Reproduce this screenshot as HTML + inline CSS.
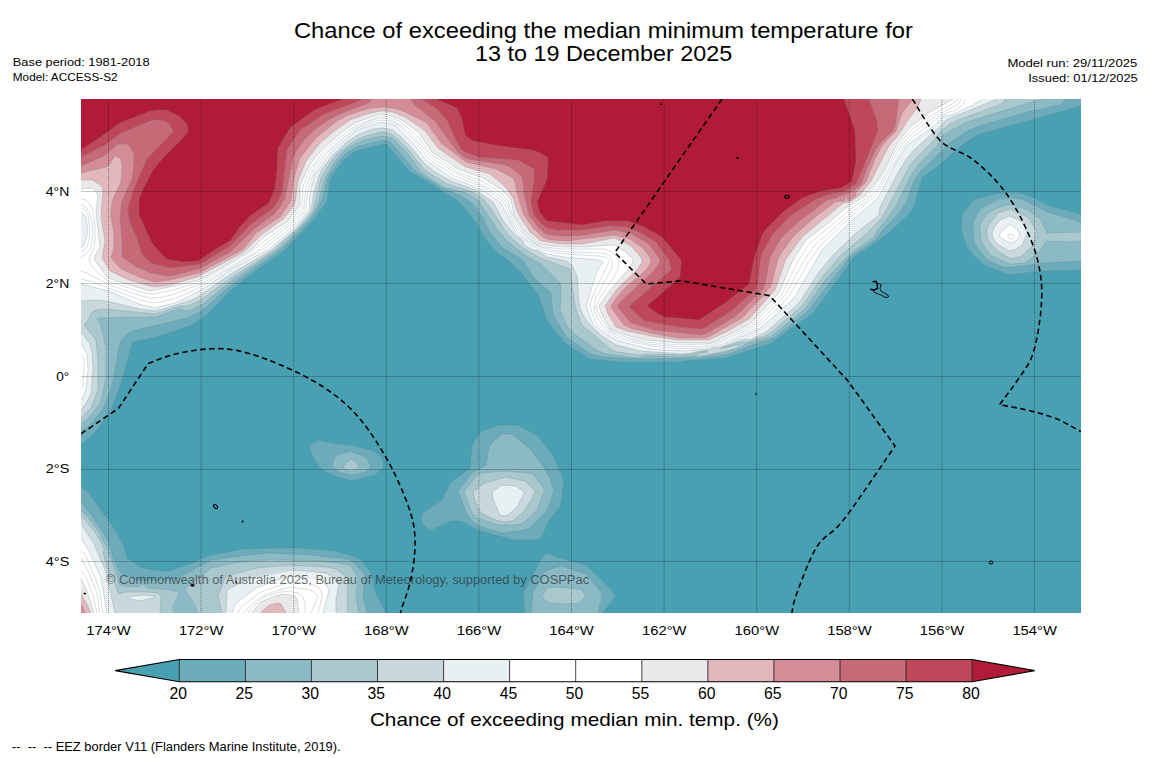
<!DOCTYPE html>
<html><head><meta charset="utf-8">
<style>
html,body{margin:0;padding:0;background:#fff;}
body{width:1150px;height:758px;position:relative;overflow:hidden;}
svg text{font-family:"Liberation Sans",sans-serif;}
</style></head><body>
<svg width="1150" height="758" viewBox="0 0 1150 758" style="position:absolute;left:0;top:0">
<defs><clipPath id="mc"><rect x="0" y="0" width="1000" height="514"/></clipPath><clipPath id="mc2"><rect x="81" y="99" width="1000" height="514"/></clipPath></defs>
<g transform="translate(81,99)"><g clip-path="url(#mc)">
<rect x="0" y="0" width="1000" height="514" fill="#4aa0b3"/>
<path fill="#6cacba" d="M0 345l0-345 1000 0 0 7-104 29-16 11-20 18-19 14-8 29-4 6-19 18-16 12-22 15-13 19-27 36-43 31-45 14-42 3-3 1-59 0-31-3-13-8-12-8-18-22-8-25-16-21-14-14-10-7-14-15-7-13-9-13-11-12-28-18-21-12-23-27-7 1-24 6-11 9-12 16-2 5-3 20-11 16-31 33-35 25-20 16-21 22-17 12-32 11-27 6-4 12-8 30-10 26-13 19-9 9zM881 116l12-16 25-6 18-1 17 6 16 8 31 8 0 56-40 1-31 4-24-9-12-10-7-9-6-17zM473 358l10 24-2 15-2 11-11 14-7 15-2 3-5 1-22 0-36-10-14-8-4-1-8 0-19 9-5-2-4-3-2-6 1-5 9-7 10-6 10-19 19-14 2-22 7-12 3-3 17-6 19 0 20 11zM229 347l4-4 5-2 12 3 24 3 19 5 8 7 1 3 0 7-8 7-20 5-5 0-12-3-12-5-6-4-8-13-2-5zM0 388l6 4 7 9 20 28 11 20 2 10 15 10 20 3 7 0 23-8 19-8 32-6 30-1 28 0 34 3 20 6 6 3 10 13 4 18 11 22-305 0zM442 494l17-32 5-7 3-1 11 5 27 7 23 22 6 8-1 3-5 7-7 8-77 0z"/>
<path fill="#8bbac5" d="M0 331l0-331 985 0-2 3-5 3-32 7-47 14-11 4-12 8-6 4-32 31-5 8-8 22-7 10-18 19-5 7-26 18-43 55-32 25-6 3-20 6-9 4-15 5-24 3-63 1-33-2-10-2-4-1-25-17-13-22-2-22-17-15-11-18-20-12-14-17-7-15-10-13-11-7-19-8-24-15-6-6-17-20-6-6-4-1-6 1-20 5-10 5-6 5-5 6-10 15-6 23-7 13-5 7-27 28-45 32-13 10-17 16-11 7-10 5-29 7-23 5-5 2-5 4-4 5-2 6-6 35-8 23-5 8-9 11-5 4zM892 123l8-14 11-6 7-3 13-1 10 1 26 13 33 10 0 39-37 2-32 4-9 0-17-8-9-12-3-6-1-11zM431 335l18 15 13 17 7 13 4 12-7 19-17 18-6 2-22 3-23-7-5-3-5-6-3-5-8-21 15-19 13-7 3-18 1-2 12-11zM251 366l2-6 2-3 14-5 15 6 3 4 3 6-6 5-14 3-12-3-6-5zM0 403l13 17 13 20 3 7 3 12 7 14 2 2 8 3 11 4 34-2 37-19 28-4 29-3 42 2 35 4 6 2 13 14-2 21 4 17-286 0zM462 474l5-3 13-4 25 8 16 19 0 6-4 14-67 0 2-20z"/>
<path fill="#a8c8cd" d="M0 325l0-325 963 0-12 3-65 20-24 13-2 5-3 5-18 18-7 9-17 34-9 13-10 12-3 6-25 18-23 24-21 30-35 28-25 7-3 3-19 6-23 4-10-1-10 1-33-1-9 2-32-4-8-3-22-16-8-7-8-18 1-22-1-5-19-19-15-8-17-13-12-14-19-29-12-7-23-6-22-15-13-18-16-16-11-2-17 4-9 4-7 4-8 7-6 8-9 15-6 22-4 10-5 7-11 12-16 16-9 7-40 27-31 25-12 6-6 1-5-2-2 0-22 8-55 1-4 1 3 4 6 24 0 32-6 25-13 16zM899 126l3-6 6-7 11-5 11-3 17 6 12 9 7 14 33-1 1 1 0 8-6 1-29-1-6 10-12 10-4 2-14 1-20-9-9-14zM262 369l2-4 6-5 5 3 4 5-1 1-8 3-6-2zM396 376l6-2 22-2 24 2 5 2 10 14 0 3-7 18-15 14-9 1-15 0-21-7-5-5-2-5-6-16zM0 411l6 6 13 17 2 6 5 9 11 30 1 6 4 2 15 1 3-2 2-1 4 4 17 1 15 3-1 4-5 10 1 7-93 0zM104 491l3-4 23-18 17-4 23-3 21-1 49 1 17 2 13 3 7 11 0 2-2 17 3 17-162 0-1-5-2-5zM461 496l5-7 12-1 21 2 3 2 2 4-1 3-4 5-15 1-17-1-4-4z"/>
<path fill="#c8d8dc" d="M0 319l0-319 924 0-2 4-4 2-41 15-8 4-10 8-7 9-17 17-7 9-27 51-16 16-26 22-17 20-21 30-28 24-7 5-19 7-4 0-4 0-19 6 4 0 11-3 3 1-2 2-15 4-22 4-6-1 14-3-1-1-8 1-8 2-11 1-34-1-7 1-21-3-6-2-29-24-2-3-6-17-5-37-30-11-17-10-16-14-17-27-5-6-12-9-26-8-18-11-7-6-15-19-13-12-6-3-7-1-15 4-10 4-9 6-10 8-7 9-5 8-4 7-8 32-4 6-12 13-25 23-37 23-33 24-12 6-4 1-6 0-25 8-50-5-9 1-5 3-2 6-5 6 12 15 2 20 0 29-7 19zM928 110l4 1 14 7 6 8 3 6-1 9-3 6-10 10-11 3-15-9-8-10-1-4 0-7 1-3 10-13zM392 393l12-9 21-6 19 4 10 10-2 6-9 14-11 10-7 1-8-1-17-8-6-12zM0 416l14 17 7 12 2 5-1 4 4 14 3 10 4 3 4 13 1 1 7-2 22 0 10 1 3 3 0 3-1 14-79 0zM137 497l8-19 7-3 24-6 28-3 42 2 9 2 11 9 1 6-1 17 1 12-126 0z"/>
<path fill="#e8f0f2" d="M0 202l0-202 916 0-51 21-4 5-27 24-8 9-8 13-19 36-1 8-23 18-22 21-15 18-20 31-33 29-16 8-5-1-4 1-22 8-6 0-3 2-11 1-8 2-9 1-42-3-24-6-14-9-14-13-5-8-3-7-1-6-2-26-6-12-5-3-19-4-9-6-5-1-6-3-3-3-2-4-7-5-11-13-11-20-18-12-24-9-16-9-10-8-15-18-11-11-7-5-9-2-10 1-14 5-12 8-14 13-11 14-3 7-5 16-3 18-15 19-26 22-36 21-38 26-10 4-31 9-15-2-34-8-10-1zM929 117l11 5 3 4 3 9-5 11-6 4-6 2-12-6-5-7-1-5 2-5 6-8zM0 233l9 12 2 8 1 17-2 25-6 11-4 5zM435 387l7 5 1 2-7 14-9 8-4 1-4-1-7-16-1-7 4-3 6-4zM0 425l13 20 12 28 9 41-34 0zM258 485l-3 15 0 14-110 0 1-23 19-10 7-3 35-7 19 1 21 3zM46 498l16-2 13 1-4 2-12 3-9-2-3-1z"/>
<path fill="#ffffff" d="M0 185l0-36 3-3 4-13-2-15-5-6 0-112 902 0-12 7-19 9-8 1-3 2-2 2-1 3-31 22-11 18-18 35-29 25-27 27-28 48-4 4-31 27-38 17-8 1-4 2-27 2-31-2-33-8-15-9-10-8-7-18 11-35 6-9-4-2-35-3-16-3-7-3-10-8-15-10-15-30-16-12-33-13-25-17-14-18-16-16-3-2-13-3-24 8-26 22-16 22-5 18-1 17-15 19-17 14-8 7-37 20-29 20-25 13-23 6-16-4-30-13zM929 125l8 6 2 6-4 5-5 2-9-4-3-4 4-5zM0 244l6 11 1 16-2 19-2 6-3 5zM0 439l9 15 11 25 6 35-26 0zM248 491l-6 23-91 0 3-9 21-16 32-11 22 0 10 2 7 7z"/>
<path fill="#ffffff" d="M0 172l0-14 5-3 4-5 2-7 1-8-1-14-3-8-3-5-5-2 0-106 880 0-1 3-3 3-20 10-23 17-9 9-5 7-17 31-10 15-6 6-17 14-35 31-12 17-17 32-14 15-14 14-7 5-30 14-13 4-29 1-31-3-27-7-13-6-5-5-5-7-3-7-1-6 2-9 16-29 0-7-2-5-4-2-5-1-34-1-14-2-9-2-7-3-18-15-7-12-5-15-7-7-15-10-29-13-18-11-9-7-14-17-13-12-7-4-12-4-7 1-21 9-28 23-11 13-4 8-6 15-2 20-4 7-9 10-37 29-53 31-30 11-13 3-9 0-11-3-30-11-21-11zM0 459l8 15 8 20 3 20-19 0zM237 497l-7 17-68 0 14-13 8-5 23-8 5 0 18 3z"/>
<path fill="#ebe8e9" d="M0 90l0-90 872 0-23 13-21 16-12 16-10 20-10 17-12 15-19 12-15 13-25 19-13 20-14 33-25 27-6 5-30 15-8 3-32 0-31-3-14-3-23-8-8-14-3-9 11-16 19-21 3-5 1-5-6-6-9-6-5-2-28 2-21 0-20-2-6-2-15-13-9-15-3-15-9-10-19-12-25-9-26-17-13-19-17-13-14-5-8-1-25 9-10 7-21 17-13 16-11 22 0 20-13 17-23 15-13 13-37 22-15 8-29 7-20 4-37-11-6-3-11-15-2-4 6-11-4-35 2-17-3-5-3-2zM0 479l6 13 7 22-13 0zM218 514l-48 0 10-11 9-4 12-4 9 1 4 1 2 3z"/>
<path fill="#e2b8bd" d="M0 81l0-81 840 0-3 8-10 13-8 13-11 13-18 35-11 14-10 7-6 1-2 1-40 33-16 22-11 31-26 29-21 12-19 9-30 0-23-3-29-6-11-4-8-13-3-8 12-17 20-19 5-8 0-2-2-4-9-10-7-4-10-4-32 6-21 0-20-3-11-9-10-15-4-9-2-8-6-10-6-6-12-10-24-7-8-5-20-14-13-17-5-4-15-10-13-5-11-1-14 3-17 6-13 9-17 14-14 18-8 20-3 22-4 7-8 9-22 16-13 13-6 5-45 24-27 8-15 2-5-1-21-6-19-9-8-13 3-17-4-24 2-29-4-4-7-4zM0 495l5 8 5 11-10 0zM205 514l-26 0 9-8 8-2 4 1z"/>
<path fill="#d48c96" d="M0 74l0-74 832 0-11 14-6 18-9 9-5 6-7 13-9 23-10 10 0 4-7 5-2-1 1-2-1-1-2 1 0 2-1 1-9 1-21 16-17 15-5 5-12 17-2 4-7 27-9 11-20 21-30 17-6 3-27 0-24-4-25-6-6-3-12-16-1-3 3-5 10-12 21-18 5-7 1-5-8-11-13-9-16-4-47 6-16-1-7-2-10-9-10-14-7-22-2-11-2-4-17-9-30-7-25-19-14-20-22-11-8-3-13-2-13 1-23 7-11 6-21 17-16 20-6 20-3 23-11 16-24 16-11 14-3 3-43 23-28 7-17 2-15-5-18-8-10-11 3-10 0-15-3-15 0-7 1-10 9-19 1-15-1-8-6-3-1 1-5 8-3 2zM0 505l2 3 2 6-4 0z"/>
<path fill="#c66a78" d="M0 67l0-67 292 0-5 4-26 10-12 6-16 11-9 9-8 11-4 8-8 40-5 9-6 7-20 15-15 15-9 8-31 17-24 6-8 1-16-3-16-7-13-9 0-17-2-20 1-13 1-6 10-22 2-16 0-9-6-10-10 0-14 12zM329 0l489 0-4 28-4 6-8 7-7 9-8 17-7 19-12 8-10 3-3 2-9 2-25 19-16 14-5 5-11 19-5 27-2 5-27 27-29 17-7 2-45-5-21-6-4-2-12-15 0-2 3-4 31-28 7-9 1-4-1-2-10-14-17-10-17-4-31 5-13 1-9 0-16-2-8-7-9-12-5-22-1-12-1-4-2-2-10-8-4-2-38-6-4-2-7-6-6-8-16-22-19-15z"/>
<path fill="#be485a" d="M0 58l0-58 282 0-20 8-19 7-24 16-13 20-5 42-2 5-7 11-23 17-20 21-30 18-5 1-25 3-19-5-9-9-5-16-6-13-2-6-1-11 5-17 14-32 26-27 0-2-4-6-4-3-8-1-5 0-31 13-16 12zM341 0l447 0 8 22 1 10-17 42-5 11-11 7-15 3-14 5-26 17-18 19-10 18-2 8-2 21-2 7-25 22-25 16-4 2-22-2-35-6-4-3-12-11 5-5 37-32-2-10-13-18-15-9-14-6-18-1-27 4-24 0-11-2-7-6-6-7-3-12 0-4 3-17 0-13-16-9-39-3-16-6-2-2-6-11-8-18-10-11z"/>
<path fill="#b01c38" d="M0 51l0-51 262 0-29 11-24 18-12 20-1 22-2 18-6 15-19 13-11 12-8 12-15 9-18 12-15 1-17-3-14-16-13-28 0-16 4-10 10-19 10-12 17-17 8-9 0-3-1-5-8-8-13-6-6 0-10 1-30 12-21 15zM355 0l408 0 11 31 1 31-4 20-2 2-9 5-19 3-20 7-20 15-17 17-3 5-7 20-6 29-24 19-26 17-22-2-13-1-6-3-11-8 32-28 1-2 1-12 0-4-4-5-15-18-18-10-16-6-23 0-23 4-35-4-7-8-3-11 10-23 1-19-1-3-7-4-7-3-33-4-27-5-8-6-3-16-5-11z"/>
<path fill="none" stroke="#5f7f8a" stroke-opacity="0.38" stroke-width="0.7" d="M1000 7l-104 29-16 11-20 18-19 14-8 29-4 6-19 18-16 12-22 15-13 19-27 36-43 31-45 14-42 3-3 1-59 0-31-3-13-8-12-8-18-22-8-25-16-21-14-14-10-7-14-15-7-13-9-13-11-12-28-18-21-12-23-27-7 1-24 6-11 9-12 16-2 5-3 20-11 16-31 33-35 25-20 16-21 22-17 12-32 11-27 6-4 12-8 30-10 26-13 19-9 9-8 6M1000 171l-40 1-31 4-19-7-6-2-17-17-7-18 1-16 11-15 26-7 21 0 14 5 13 7 34 9M0 388l6 4 7 9 20 28 11 20 2 10 15 10 20 3 7 0 23-8 19-8 32-6 30-1 28 0 34 3 20 6 6 3 10 13 4 18 11 22M444 514l-2-20 17-32 5-7 3-1 11 5 27 7 23 23 5 5 0 3-7 13-5 4M473 358l10 24-2 15-2 11-11 14-7 15-2 3-5 1-22 0-36-10-14-8-4-1-8 0-19 9-5-2-4-3-2-6 1-5 9-7 10-6 10-19 19-14 2-22 7-12 3-3 17-6 19 0 20 11zM229 347l4-4 5-2 12 3 24 3 19 5 8 7 1 3 0 7-8 7-20 5-5 0-12-3-12-5-6-4-8-13-2-5zM985 0l-2 3-5 3-32 7-47 14-11 4-12 8-6 4-32 31-5 8-8 22-7 10-18 19-5 7-26 18-43 55-32 25-6 3-20 6-9 4-15 5-24 3-63 1-33-2-10-2-4-1-25-17-13-22-2-22-17-15-11-18-20-12-14-17-7-15-10-13-11-7-19-8-24-15-6-6-17-20-6-6-4-1-6 1-20 5-10 5-6 5-5 6-10 15-6 23-7 13-5 7-27 28-45 32-13 10-17 16-11 7-10 5-29 7-23 5-5 2-5 4-4 5-2 6-6 35-8 23-5 8-9 11-5 4-5 2M1000 162l-37 2-32 4-9 0-13-5-4-3-12-17-1-15 1-7 8-13 16-7 14-2 10 1 26 13 33 10M0 403l13 17 13 20 3 7 3 12 7 14 2 2 8 3 11 4 34-2 37-19 28-4 29-3 42 2 35 4 6 2 13 14-2 21 4 17M450 514l2-20 10-20 5-3 13-4 25 8 13 15 3 5-4 19M431 335l18 15 13 17 7 13 4 12-7 19-17 18-6 2-22 3-23-7-5-3-5-6-3-5-8-21 15-19 13-7 3-18 1-2 12-11zM251 366l2-6 2-3 14-5 15 6 3 4 3 6-6 5-14 3-12-3-6-5zM963 0l-12 3-65 20-24 13-2 5-3 5-18 18-7 9-17 34-9 13-10 12-3 6-25 18-23 24-21 30-35 28-25 7-3 3-19 6-23 4-10-1-10 1-33-1-9 2-32-4-8-3-22-16-8-7-8-18 1-22-1-5-19-19-15-8-17-13-12-14-19-29-12-7-23-6-22-15-13-18-16-16-11-2-17 4-9 4-7 4-8 7-6 8-9 15-6 22-4 10-5 7-11 12-16 16-9 7-40 27-31 25-12 6-6 1-5-2-2 0-22 8-55 1-4 1 3 4 6 24 0 32-6 25-13 16-6 4M1000 142l-6 1-29-1-6 10-12 10-4 2-14 1-20-9-9-14-1-12 0-4 1-3 8-10 8-4 13-4 18 6 12 9 7 14 28-1 6 1M0 411l6 6 13 17 2 6 5 9 11 30 1 6 4 2 15 1 3-2 2-1 4 4 17 1 15 3-1 4-5 10 1 7M116 514l-1-5-2-5-9-13 3-4 23-18 29-6 28-2 20 0 34 1 24 3 5 2 5 8 2 5-2 17 3 17M262 369l2-4 6-5 5 3 4 5-1 1-8 3-6-2zM396 376l6-2 22-2 24 2 5 2 10 14 0 3-7 18-15 14-9 1-15 0-21-7-5-5-2-5-6-16zM461 496l5-7 12-1 21 2 3 2 2 4-1 3-4 5-15 1-17-1-4-4zM924 0l-2 4-4 2-41 15-8 4-10 8-7 9-17 17-7 9-27 51-16 16-26 22-17 20-21 30-28 24-7 5-19 7-4 0-4 0-19 6 4 0 11-3 3 1-2 2-15 4-22 4-6-1 14-3-1-1-8 1-8 2-11 1-34-1-7 1-21-3-6-2-29-24-2-3-6-17-5-37-30-11-17-10-16-14-17-27-5-6-12-9-26-8-18-11-7-6-15-19-13-12-6-3-7-1-15 4-10 4-9 6-10 8-7 9-5 8-4 7-8 32-4 6-12 13-25 23-37 23-33 24-12 6-4 1-6 0-25 8-50-5-9 1-5 3-2 6-5 6 12 15 2 20 0 29-7 19-10 10M0 416l14 17 7 12 2 5-1 4 4 14 3 10 4 3 4 13 1 1 7-2 22 0 10 1 3 3 0 3-1 14M141 514l-4-18 6-15 3-4 30-8 33-3 37 2 9 2 5 3 7 7-1 21 1 13M928 110l4 1 14 7 6 8 3 6-1 9-3 6-10 10-11 3-15-9-8-10-1-4 0-7 1-3 10-13zM640 250l-1 0M392 393l12-9 21-6 19 4 10 10-2 6-9 14-11 10-7 1-8-1-17-8-6-12zM916 0l-51 21-4 5-27 24-8 9-8 13-19 36-1 8-23 18-22 21-15 18-20 31-33 29-16 8-5-1-4 1-22 8-6 0-3 2-11 1-8 2-9 1-42-3-24-6-14-9-14-13-5-8-3-7-1-6-2-26-6-12-5-3-19-4-9-6-5-1-6-3-3-3-2-4-7-5-11-13-11-20-18-12-24-9-16-9-10-8-15-18-11-11-7-5-9-2-10 1-14 5-12 8-14 13-11 14-3 7-5 16-3 18-15 19-26 22-36 21-38 26-10 4-31 9-15-2-34-8-10-1-15 1M0 233l9 12 2 8 1 17-2 25-6 11-4 5M0 425l13 20 12 28 9 41M145 514l1-23 22-11 42-9 36 3 9 7 3 5-3 14 0 14M929 117l11 5 3 4 3 9-5 11-6 4-6 2-12-6-5-7-1-5 2-5 6-8zM435 387l7 5 1 2-7 14-9 8-4 1-4-1-7-16-1-7 4-3 6-4zM46 498l16-2 13 1-4 2-12 3-9-2-3-1zM902 0l-12 7-19 9-8 1-3 2-2 2-1 3-31 22-11 18-18 35-29 25-27 27-28 48-4 4-31 27-38 17-8 1-4 2-27 2-31-2-33-8-15-9-10-8-7-18 11-35 6-9-4-2-35-3-16-3-7-3-10-8-15-10-15-30-16-12-33-13-25-17-14-18-16-16-3-2-13-3-24 8-26 22-16 22-5 18-1 17-15 19-17 14-8 7-37 20-29 20-25 13-23 6-16-4-30-13-28-7M0 149l3-3 4-13-2-15-5-6M0 244l6 11 1 16-2 19-2 6-3 5M0 439l9 15 11 25 6 35M151 514l3-9 21-16 26-10 10-2 27 3 2 1 6 6 2 5-6 22M929 125l8 6 2 6-4 5-5 2-9-4-3-4 4-5zM884 0l-1 4-4 4-7 4-13 5-8 7-17 12-9 8-31 53-30 26-26 25-11 16-18 32-9 10-18 17-9 7-32 15-9 2-6 2-28 1-28-3-32-7-14-8-7-6-3-4-3-8-2-7 1-5 3-8 14-29 1-3-1-2-3-2-6-1-35-2-16-3-6-2-25-18-6-11-6-15-4-5-16-12-30-12-19-12-7-5-15-19-15-14-5-3-12-3-5 1-21 8-28 23-14 20-6 18-2 18-4 7-9 11-28 22-34 20-30 19-25 11-15 4-8 1-13-3-50-19-9-2M0 153l3-1 3-4 2-6 1-8-2-18-3-5-4-2M0 256l3 3 0 13-1 15-2 3M0 452l3 2 2 3 10 24 4 13 3 20M157 514l2-4 3-4 18-13 22-8 10-2 18 2 5 2 4 3 2 4 0 4-4 16M927 136l4-1 2 1 0 2-1 2-3 0-2-1zM880 0l-1 3-3 3-20 10-23 17-9 9-5 7-17 31-10 15-6 6-17 14-35 31-12 17-17 32-14 15-14 14-7 5-30 14-13 4-29 1-31-3-27-7-13-6-5-5-5-7-3-7-1-6 2-9 16-29 0-7-2-5-4-2-5-1-34-1-14-2-9-2-7-3-18-15-7-12-5-15-7-7-15-10-29-13-18-11-9-7-14-17-13-12-7-4-12-4-7 1-21 9-28 23-11 13-4 8-6 15-2 20-4 7-9 10-37 29-53 31-30 11-13 3-9 0-11-3-30-11-21-11-6-2M0 158l5-3 4-5 2-7 1-8-1-14-3-8-3-5-5-2M0 459l8 15 8 20 3 20M162 514l14-13 8-5 14-5 12-3 20 3 6 5 1 2-7 16M877 0l-4 4-22 12-18 13-6 6-9 11-16 29-12 18-6 7-13 9-42 35-12 18-16 33-25 26-5 5-32 16-12 3-30 1-31-3-17-4-21-8-8-12-4-8-1-4 4-8 14-21 4-8 1-8-4-7-5-3-6-2-41 0-19-2-7-3-16-14-8-14-5-15-7-8-17-11-26-10-20-13-8-6-12-16-10-9-9-7-12-4-5-1-4 1-23 9-29 22-10 13-6 9-7 16-1 20-7 10-7 8-21 15-15 12-47 28-9 4-23 7-19 4-10-1-36-12-13-11-4-5-2-5 1-4 4-8 1-5 0-13-1-14-2-8-3-5-3-3-5-1M0 472l3 3 3 6 6 16 4 17M167 514l2-3 8-8 7-5 15-5 10-1 8 2 5 4 2 6 0 10M872 0l-23 13-21 16-12 16-10 20-10 17-12 15-19 12-15 13-25 19-13 20-14 33-25 27-6 5-30 15-8 3-32 0-31-3-14-3-23-8-8-14-3-9 11-16 19-21 3-5 1-5-6-6-9-6-5-2-28 2-21 0-20-2-6-2-15-13-9-15-3-15-9-10-19-12-25-9-26-17-13-19-17-13-14-5-8-1-25 9-10 7-21 17-13 16-11 22 0 20-13 17-23 15-13 13-37 22-15 8-29 7-20 4-37-11-6-3-11-15-2-4 6-11-4-35 2-17-3-5-3-2-11 1M0 479l6 13 7 22M170 514l10-11 9-4 12-4 9 1 4 1 2 3 2 14M840 0l-3 8-10 13-8 13-11 13-18 35-11 14-10 7-6 1-2 1-40 33-16 22-11 31-26 29-21 12-19 9-30 0-23-3-29-6-11-4-8-13-3-8 12-17 20-19 5-8 0-2-2-4-9-10-7-4-10-4-32 6-21 0-20-3-11-9-10-15-4-9-2-8-6-10-6-6-12-10-24-7-8-5-20-14-13-17-5-4-15-10-13-5-11-1-14 3-17 6-13 9-17 14-14 18-8 20-3 22-4 7-8 9-22 16-13 13-6 5-45 24-27 8-15 2-5-1-21-6-19-9-8-13 3-17-4-24 2-29-4-4-7-4-11 0M0 495l5 8 5 11M179 514l9-8 8-2 4 1 5 9M832 0l-11 14-6 18-9 9-5 6-7 13-9 23-10 10 0 4-7 5-2-1 1-2-1-1-2 1 0 2-1 1-9 1-21 16-17 15-5 5-12 17-2 4-7 27-9 11-20 21-30 17-6 3-27 0-24-4-25-6-6-3-12-16-1-3 3-5 10-12 21-18 5-7 1-5-8-11-13-9-16-4-47 6-16-1-7-2-10-9-10-14-7-22-2-11-2-4-17-9-30-7-25-19-14-20-22-11-8-3-13-2-13 1-23 7-11 6-21 17-16 20-6 20-3 23-11 16-24 16-11 14-3 3-43 23-28 7-17 2-15-5-18-8-10-11 3-10 0-15-3-15 0-7 1-10 9-19 1-15-1-8-6-3-1 1-5 8-3 2-25 6M0 505l2 3 2 6M292 0l-5 4-26 10-12 6-16 11-9 9-8 11-4 8-8 40-5 9-6 7-20 15-15 15-9 8-31 17-24 6-8 1-16-3-16-7-13-9 0-17-2-20 1-13 1-6 10-22 2-16 0-9-6-10-10 0-14 12-23 10M312 0l-1 0-1 0M818 0l-4 28-4 6-8 7-7 9-8 17-7 19-12 8-10 3-3 2-9 2-25 19-16 14-5 5-11 19-5 27-2 5-27 27-29 17-7 2-45-5-21-6-4-2-12-15 0-2 3-4 31-28 7-9 1-4-1-2-10-14-17-10-17-4-31 5-13 1-9 0-16-2-8-7-9-12-5-22-1-12-1-4-2-2-10-8-4-2-38-6-4-2-7-6-6-8-16-22-19-15-6-7M282 0l-20 8-19 7-24 16-13 20-5 42-2 5-7 11-23 17-20 21-30 18-5 1-25 3-19-5-9-9-5-16-6-13-2-6-1-11 5-17 14-32 26-27 0-2-4-6-4-3-8-1-5 0-31 13-16 12-24 12M788 0l8 22 0 11-21 52-11 7-15 3-14 5-26 17-18 19-10 18-2 8-2 21-2 7-25 22-24 15-7 3-20-2-35-6-4-3-12-11 5-5 37-32-2-10-13-18-15-9-14-6-18-1-27 4-24 0-11-2-7-6-6-7-3-12 0-4 3-17 0-13-16-9-39-3-16-6-2-2-6-11-8-18-10-11-15-10M262 0l-29 11-24 18-12 20-1 22-2 18-6 15-19 13-11 12-8 12-15 9-18 12-15 1-17-3-14-16-13-28 0-16 4-10 10-19 10-12 17-17 8-9 0-3-1-5-8-8-13-6-6 0-10 1-30 12-21 15-18 12M763 0l11 31 1 18 0 14-4 19-11 7-19 3-20 7-19 14-18 18-3 5-7 20-6 29-24 19-26 17-22-2-14-1-16-11 31-27 2-3 1-10 0-6-4-5-16-19-17-9-16-6-23 0-23 4-35-4-7-8-3-11 10-23 1-19-1-3-7-4-7-3-33-4-27-5-8-6-3-16-5-11-21-9"/>
</g></g>
<path d="M81 191.5H1081M81 283.5H1081M81 376.5H1081M81 469.5H1081M81 561.5H1081" stroke="#000" stroke-opacity="0.22" stroke-width="1" fill="none"/>
<path d="M108.5 100V613M201.1 100V613M293.7 100V613M386.3 100V613M478.9 100V613M571.5 100V613M664.1 100V613M756.7 100V613M849.3 100V613M941.9 100V613M1034.5 100V613" stroke="#000" stroke-opacity="0.4" stroke-width="1" stroke-dasharray="1 1" fill="none"/>
<g clip-path="url(#mc2)"><path d="M81.0 433.8 L85.5 430.7 L92.1 426.3 L99.7 421.1 L107.3 415.9 L113.9 411.5 L118.4 408.4 L122.0 403.0 L127.2 395.1 L133.3 386.0 L139.4 376.9 L144.6 369.0 L148.2 363.6 L150.9 362.5 L154.6 361.1 L159.0 359.3 L163.9 357.5 L169.1 355.7 L174.4 354.3 L180.0 353.0 L186.1 351.8 L192.6 350.7 L199.1 349.7 L205.6 349.1 L211.7 348.7 L217.4 348.6 L222.8 348.8 L228.1 349.1 L233.5 349.9 L239.2 350.9 L245.4 352.4 L252.3 354.4 L259.8 356.9 L267.6 359.7 L275.4 362.8 L283.0 366.0 L290.2 369.2 L296.9 372.3 L303.5 375.6 L309.8 378.9 L315.9 382.4 L321.8 386.0 L327.5 389.8 L333.0 393.7 L338.2 397.7 L343.1 401.8 L348.0 406.2 L352.7 410.8 L357.4 415.9 L362.1 421.5 L366.7 427.5 L371.2 433.9 L375.6 440.4 L379.7 446.9 L383.6 453.3 L387.2 459.6 L390.7 465.9 L393.9 472.2 L396.9 478.4 L399.7 484.6 L402.3 490.6 L404.7 496.5 L407.0 502.2 L409.0 507.9 L410.8 513.4 L412.3 518.9 L413.5 524.2 L414.3 529.4 L414.8 534.4 L415.1 539.4 L415.1 544.3 L414.9 549.2 L414.6 554.1 L414.2 559.2 L413.5 564.3 L412.7 569.5 L411.7 574.6 L410.7 579.5 L409.7 584.0 L408.5 588.4 L407.2 592.6 L405.8 596.7 L404.5 600.4 L403.2 603.7 L402.3 606.4 L401.6 608.5 L401.2 610.0 L400.9 611.1 L400.7 611.9 L400.5 612.5 L400.4 613.0M722.0 99.0 L709.1 117.5 L690.2 144.5 L668.4 175.8 L646.6 207.1 L627.7 234.1 L614.8 252.6 L618.6 256.4 L624.1 261.9 L630.5 268.3 L636.9 274.7 L642.4 280.2 L646.2 284.0 L650.4 283.6 L656.6 283.0 L663.8 282.4 L671.0 281.7 L677.2 281.1 L681.4 280.7 L692.0 282.5 L707.5 285.1 L725.4 288.2 L743.4 291.2 L758.9 293.8 L769.5 295.6 L778.9 305.8 L792.6 320.7 L808.5 338.0 L824.4 355.3 L838.1 370.2 L847.5 380.4 L853.2 388.3 L861.6 399.8 L871.2 413.2 L880.9 426.6 L889.3 438.1 L895.0 446.0 L889.2 454.5 L880.9 466.7 L871.2 480.9 L861.1 495.6 L851.7 508.9 L844.0 519.3 L838.0 526.3 L833.0 531.0 L828.6 534.5 L824.6 537.6 L820.8 541.3 L817.0 546.5 L813.0 553.6 L809.1 561.9 L805.4 570.8 L802.0 579.5 L799.0 587.5 L796.6 594.0 L794.9 599.0 L793.7 603.1 L793.0 606.5 L792.5 609.1 L792.2 611.3 L791.9 613.0M912.4 99.0 L915.4 103.8 L919.4 110.7 L924.3 118.7 L929.6 127.0 L935.0 134.6 L940.2 140.7 L945.3 145.0 L950.7 148.1 L956.1 150.5 L961.6 152.9 L967.1 155.6 L972.6 159.2 L978.1 163.7 L983.7 168.6 L989.4 173.9 L994.9 179.6 L1000.1 185.5 L1005.0 191.6 L1009.5 198.1 L1013.8 205.0 L1017.9 212.2 L1021.7 219.4 L1025.1 226.5 L1028.2 233.3 L1030.9 239.8 L1033.3 246.0 L1035.4 252.1 L1037.1 258.2 L1038.6 264.3 L1039.8 270.4 L1040.7 276.5 L1041.4 282.4 L1041.7 288.3 L1041.8 294.4 L1041.6 300.7 L1041.2 307.4 L1040.5 314.8 L1039.4 322.8 L1038.2 331.1 L1036.6 339.3 L1034.9 346.9 L1032.9 353.7 L1030.7 359.5 L1028.1 364.5 L1025.3 369.0 L1022.4 373.3 L1019.5 377.3 L1016.6 381.5 L1013.6 385.9 L1010.3 390.4 L1007.0 394.8 L1004.0 398.9 L1001.4 402.2 L999.5 404.7 L1002.6 405.3 L1007.0 406.1 L1012.1 407.0 L1017.6 408.0 L1023.1 409.1 L1028.2 410.3 L1032.9 411.5 L1037.6 412.7 L1042.3 414.0 L1047.0 415.4 L1051.5 416.9 L1056.0 418.6 L1060.6 420.6 L1065.5 423.1 L1070.2 425.6 L1074.6 428.1 L1078.3 430.1 L1081.0 431.6" stroke="#000" stroke-width="1.6" stroke-dasharray="5.5 3.5" fill="none" stroke-linejoin="round"/></g>
<g fill="none" stroke="#000" stroke-width="1.1"><ellipse cx="215.5" cy="506.5" rx="2.4" ry="1.5" transform="rotate(35 215.5 506.5)"/><ellipse cx="787" cy="196.8" rx="2.2" ry="1.6"/><path d="M872.6 281.8 L875.8 281.3 L877.2 284 L877.5 288.4 L874 289.9 L870.4 289.3" stroke-width="1.5"/><path d="M877.6 283 L881.2 284.8 L880 288.5 L881 291.2 L887.7 294.9 L888.6 296.8 L886 297.7 L881.7 295.4 L874 292.2 L872.9 290.3" stroke-width="0.9"/></g>
<g fill="#000"><rect x="241.8" y="520.5" width="1.6" height="2"/><rect x="660" y="103.5" width="2" height="1.5"/><rect x="736" y="157.2" width="3" height="1.6" transform="rotate(20 737.5 158)"/><rect x="755.2" y="393.2" width="1.4" height="1.4"/><ellipse cx="192.5" cy="585.3" rx="2.2" ry="1.4"/><rect x="235.5" y="581.5" width="1.5" height="1.5"/><rect x="83.5" y="592.8" width="2.5" height="1.5"/><ellipse cx="991" cy="562.5" rx="2" ry="1.5" fill="none" stroke="#000" stroke-width="1"/></g>
<path d="M179.3 659.5 L115.2 670.6 L179.3 681.8 Z" fill="#4aa0b3"/>
<path d="M972.1 659.5 L1034.7 670.6 L972.1 681.8 Z" fill="#b01c38"/>
<rect x="179.30" y="659.5" width="66.37" height="22.3" fill="#6cacba"/>
<rect x="245.37" y="659.5" width="66.37" height="22.3" fill="#8bbac5"/>
<rect x="311.44" y="659.5" width="66.37" height="22.3" fill="#a8c8cd"/>
<rect x="377.51" y="659.5" width="66.37" height="22.3" fill="#c8d8dc"/>
<rect x="443.58" y="659.5" width="66.37" height="22.3" fill="#e8f0f2"/>
<rect x="509.65" y="659.5" width="66.37" height="22.3" fill="#ffffff"/>
<rect x="575.72" y="659.5" width="66.37" height="22.3" fill="#ffffff"/>
<rect x="641.79" y="659.5" width="66.37" height="22.3" fill="#ebe8e9"/>
<rect x="707.86" y="659.5" width="66.37" height="22.3" fill="#e2b8bd"/>
<rect x="773.93" y="659.5" width="66.37" height="22.3" fill="#d48c96"/>
<rect x="840.00" y="659.5" width="66.37" height="22.3" fill="#c66a78"/>
<rect x="906.07" y="659.5" width="66.37" height="22.3" fill="#be485a"/>
<path d="M179.3 659.5V681.8M245.4 659.5V681.8M311.4 659.5V681.8M377.5 659.5V681.8M443.6 659.5V681.8M509.6 659.5V681.8M575.7 659.5V681.8M641.8 659.5V681.8M707.9 659.5V681.8M773.9 659.5V681.8M840.0 659.5V681.8M906.1 659.5V681.8M972.1 659.5V681.8" stroke="#111" stroke-width="0.8" fill="none"/>
<path d="M179.3 659.5 L115.2 670.6 L179.3 681.8 L972.1 681.8 L1034.7 670.6 L972.1 659.5 Z" fill="none" stroke="#000" stroke-width="1.1" stroke-linejoin="miter"/>
<text x="293.9" y="37.6" font-size="21.5" text-anchor="start" textLength="619.0" lengthAdjust="spacingAndGlyphs" fill="#000">Chance of exceeding the median minimum temperature for</text>
<text x="475.0" y="60.9" font-size="21.5" text-anchor="start" textLength="257.2" lengthAdjust="spacingAndGlyphs" fill="#000">13 to 19 December 2025</text>
<text x="12.8" y="65.7" font-size="11.5" text-anchor="start" textLength="136.8" lengthAdjust="spacingAndGlyphs" fill="#000">Base period: 1981-2018</text>
<text x="12.8" y="80.6" font-size="11.5" text-anchor="start" textLength="104.8" lengthAdjust="spacingAndGlyphs" fill="#000">Model: ACCESS-S2</text>
<text x="1007.4" y="66.5" font-size="11.5" text-anchor="start" textLength="129.8" lengthAdjust="spacingAndGlyphs" fill="#000">Model run: 29/11/2025</text>
<text x="1028.3" y="81.5" font-size="11.5" text-anchor="start" textLength="109.5" lengthAdjust="spacingAndGlyphs" fill="#000">Issued: 01/12/2025</text>
<text x="45.8" y="195.7" font-size="13.4" text-anchor="start" textLength="23.5" lengthAdjust="spacingAndGlyphs" fill="#000">4°N</text>
<text x="45.8" y="288.1" font-size="13.4" text-anchor="start" textLength="23.5" lengthAdjust="spacingAndGlyphs" fill="#000">2°N</text>
<text x="56.2" y="380.6" font-size="13.4" text-anchor="start" textLength="13.1" lengthAdjust="spacingAndGlyphs" fill="#000">0°</text>
<text x="45.8" y="473.1" font-size="13.4" text-anchor="start" textLength="23.5" lengthAdjust="spacingAndGlyphs" fill="#000">2°S</text>
<text x="45.8" y="565.6" font-size="13.4" text-anchor="start" textLength="23.5" lengthAdjust="spacingAndGlyphs" fill="#000">4°S</text>
<text x="86.3" y="635.0" font-size="13.4" text-anchor="start" textLength="44.5" lengthAdjust="spacingAndGlyphs" fill="#000">174°W</text>
<text x="178.9" y="635.0" font-size="13.4" text-anchor="start" textLength="44.5" lengthAdjust="spacingAndGlyphs" fill="#000">172°W</text>
<text x="271.5" y="635.0" font-size="13.4" text-anchor="start" textLength="44.5" lengthAdjust="spacingAndGlyphs" fill="#000">170°W</text>
<text x="364.1" y="635.0" font-size="13.4" text-anchor="start" textLength="44.5" lengthAdjust="spacingAndGlyphs" fill="#000">168°W</text>
<text x="456.7" y="635.0" font-size="13.4" text-anchor="start" textLength="44.5" lengthAdjust="spacingAndGlyphs" fill="#000">166°W</text>
<text x="549.3" y="635.0" font-size="13.4" text-anchor="start" textLength="44.5" lengthAdjust="spacingAndGlyphs" fill="#000">164°W</text>
<text x="642.0" y="635.0" font-size="13.4" text-anchor="start" textLength="44.5" lengthAdjust="spacingAndGlyphs" fill="#000">162°W</text>
<text x="734.6" y="635.0" font-size="13.4" text-anchor="start" textLength="44.5" lengthAdjust="spacingAndGlyphs" fill="#000">160°W</text>
<text x="827.2" y="635.0" font-size="13.4" text-anchor="start" textLength="44.5" lengthAdjust="spacingAndGlyphs" fill="#000">158°W</text>
<text x="919.8" y="635.0" font-size="13.4" text-anchor="start" textLength="44.5" lengthAdjust="spacingAndGlyphs" fill="#000">156°W</text>
<text x="1012.4" y="635.0" font-size="13.4" text-anchor="start" textLength="44.5" lengthAdjust="spacingAndGlyphs" fill="#000">154°W</text>
<text x="169.4" y="699.0" font-size="16.5" text-anchor="start" textLength="17.5" lengthAdjust="spacingAndGlyphs" fill="#000">20</text>
<text x="235.4" y="699.0" font-size="16.5" text-anchor="start" textLength="17.5" lengthAdjust="spacingAndGlyphs" fill="#000">25</text>
<text x="301.5" y="699.0" font-size="16.5" text-anchor="start" textLength="17.5" lengthAdjust="spacingAndGlyphs" fill="#000">30</text>
<text x="367.6" y="699.0" font-size="16.5" text-anchor="start" textLength="17.5" lengthAdjust="spacingAndGlyphs" fill="#000">35</text>
<text x="433.6" y="699.0" font-size="16.5" text-anchor="start" textLength="17.5" lengthAdjust="spacingAndGlyphs" fill="#000">40</text>
<text x="499.7" y="699.0" font-size="16.5" text-anchor="start" textLength="17.5" lengthAdjust="spacingAndGlyphs" fill="#000">45</text>
<text x="565.8" y="699.0" font-size="16.5" text-anchor="start" textLength="17.5" lengthAdjust="spacingAndGlyphs" fill="#000">50</text>
<text x="631.8" y="699.0" font-size="16.5" text-anchor="start" textLength="17.5" lengthAdjust="spacingAndGlyphs" fill="#000">55</text>
<text x="697.9" y="699.0" font-size="16.5" text-anchor="start" textLength="17.5" lengthAdjust="spacingAndGlyphs" fill="#000">60</text>
<text x="764.0" y="699.0" font-size="16.5" text-anchor="start" textLength="17.5" lengthAdjust="spacingAndGlyphs" fill="#000">65</text>
<text x="830.0" y="699.0" font-size="16.5" text-anchor="start" textLength="17.5" lengthAdjust="spacingAndGlyphs" fill="#000">70</text>
<text x="896.1" y="699.0" font-size="16.5" text-anchor="start" textLength="17.5" lengthAdjust="spacingAndGlyphs" fill="#000">75</text>
<text x="962.2" y="699.0" font-size="16.5" text-anchor="start" textLength="17.5" lengthAdjust="spacingAndGlyphs" fill="#000">80</text>
<text x="369.9" y="725.6" font-size="17.7" text-anchor="start" textLength="409.0" lengthAdjust="spacingAndGlyphs" fill="#000">Chance of exceeding median min. temp. (%)</text>
<text x="12.0" y="750.9" font-size="12.0" text-anchor="start" textLength="328.6" lengthAdjust="spacingAndGlyphs" fill="#000" xml:space="preserve">--  --  -- EEZ border V11 (Flanders Marine Institute, 2019).</text>
<text x="105.9" y="583.8" font-size="12.0" text-anchor="start" textLength="483.2" lengthAdjust="spacingAndGlyphs" fill="#262626" fill-opacity="0.66">© Commonwealth of Australia 2025, Bureau of Meteorology, supported by COSPPac</text>
</svg>
</body></html>
